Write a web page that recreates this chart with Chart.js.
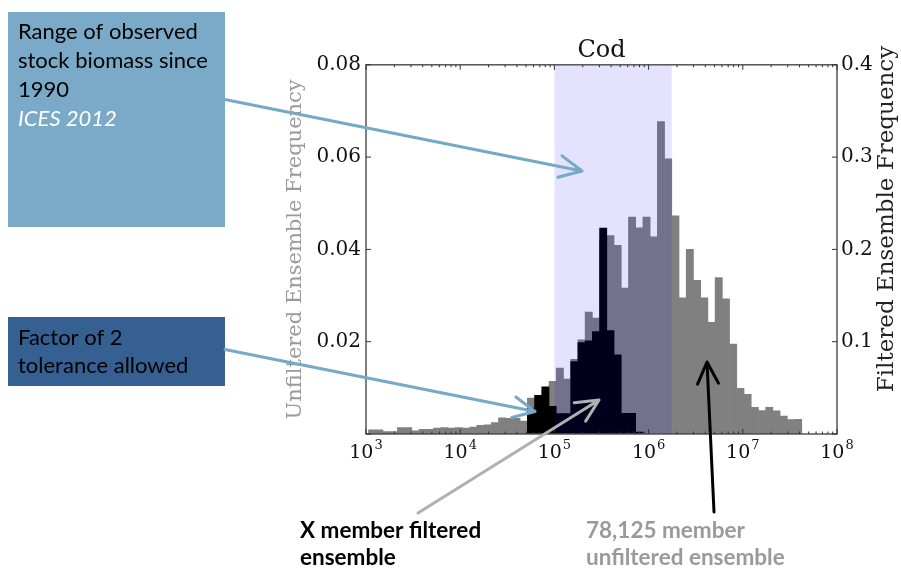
<!DOCTYPE html>
<html>
<head>
<meta charset="utf-8">
<script src="https://cdn.jsdelivr.net/npm/chart.js@4.4.1/dist/chart.umd.min.js"></script>
<style>
  html, body { margin: 0; padding: 0; background: #ffffff; }
  #wrap { position: relative; width: 901px; height: 569px; }
</style>
</head>
<body>
<div id="wrap"><canvas id="cod"></canvas></div>
<script>
// ---- Cod ensemble biomass histograms (60 log-spaced bins, log10 units) ----
const binLog10Min = 3.0265;
const binLog10Max = 7.626;

// Unfiltered ensemble frequency (left axis)
const unfilteredFreq = [
  0.0009, 0.0009, 0.0005, 0.0005, 0.0014, 0.0014, 0.0007, 0.0010, 0.0010, 0.0013,
  0.0014, 0.0013, 0.0014, 0.0013, 0.0015, 0.0019, 0.0020, 0.0025, 0.0035, 0.0034,
  0.0034, 0.0028, 0.0078, 0.0060, 0.0095, 0.0114, 0.0143, 0.0119, 0.0162, 0.0204,
  0.0264, 0.0251, 0.0420, 0.0430, 0.0409, 0.0316, 0.0470, 0.0447, 0.0470, 0.0427,
  0.0677, 0.0596, 0.0473, 0.0295, 0.0400, 0.0333, 0.0295, 0.0242, 0.0339, 0.0293,
  0.0195, 0.0099, 0.0086, 0.0058, 0.0051, 0.0058, 0.0050, 0.0039, 0.0031, 0.0032
];

// Filtered ensemble frequency (right axis)
const filteredFreq = [
  0, 0, 0, 0, 0, 0, 0, 0, 0, 0,
  0, 0, 0, 0, 0, 0, 0, 0, 0, 0,
  0, 0, 0.028, 0.042, 0.051, 0.030, 0.022, 0.022, 0.0785, 0.099,
  0.101, 0.111, 0.223, 0.112, 0.0858, 0.0225, 0.0225, 0.002, 0, 0,
  0, 0, 0, 0, 0, 0, 0, 0, 0, 0,
  0, 0, 0, 0, 0, 0, 0, 0, 0, 0
];

// Observed stock biomass since 1990 (ICES 2012)
const observedRange = [1e5, 1.76e6];

// Axis ticks
const xTickExponents = [3, 4, 5, 6, 7, 8];
const leftTicks = [0, 0.02, 0.04, 0.06, 0.08];
const rightTicks = [0, 0.1, 0.2, 0.3, 0.4];

// Bin centres in log10 space
const binWidth = (binLog10Max - binLog10Min) / unfilteredFreq.length;
const binCentres = unfilteredFreq.map((_, i) => binLog10Min + (i + 0.5) * binWidth);

const SERIF = "'DejaVu Serif', serif";
const SANS = "Lato, 'Open Sans', sans-serif";

function arrow(ctx, x1, y1, x2, y2, color, width, head, angle) {
  ctx.save();
  ctx.strokeStyle = color;
  ctx.lineWidth = width;
  ctx.lineCap = 'round';
  ctx.lineJoin = 'round';
  ctx.beginPath();
  ctx.moveTo(x1, y1);
  ctx.lineTo(x2, y2);
  const a = Math.atan2(y2 - y1, x2 - x1);
  ctx.moveTo(x2 - head * Math.cos(a - angle), y2 - head * Math.sin(a - angle));
  ctx.lineTo(x2, y2);
  ctx.lineTo(x2 - head * Math.cos(a + angle), y2 - head * Math.sin(a + angle));
  ctx.stroke();
  ctx.restore();
}

const decor = {
  id: 'decor',
  afterDatasetsDraw(chart) {
    const {ctx, chartArea: ca, scales} = chart;
    const x = scales.x, y = scales.y, y2 = scales.y2;
    ctx.save();
    // shaded observed range
    const xa = x.getPixelForValue(Math.log10(observedRange[0]));
    const xb = x.getPixelForValue(Math.log10(observedRange[1]));
    ctx.fillStyle = 'rgba(0, 0, 255, 0.11)';
    ctx.fillRect(xa, ca.top, xb - xa, ca.bottom - ca.top);

    // frame
    ctx.strokeStyle = '#555555';
    ctx.lineWidth = 1.5;
    ctx.strokeRect(ca.left, ca.top, ca.right - ca.left, ca.bottom - ca.top);

    // inward ticks
    ctx.lineWidth = 1;
    ctx.strokeStyle = '#333333';
    ctx.beginPath();
    xTickExponents.forEach(e => {
      const px = x.getPixelForValue(e);
      ctx.moveTo(px, ca.bottom); ctx.lineTo(px, ca.bottom - 5);
      ctx.moveTo(px, ca.top); ctx.lineTo(px, ca.top + 5);
      if (e < 8) {
        for (let k = 2; k <= 9; k++) {
          const pm = x.getPixelForValue(e + Math.log10(k));
          ctx.moveTo(pm, ca.bottom); ctx.lineTo(pm, ca.bottom - 2.5);
          ctx.moveTo(pm, ca.top); ctx.lineTo(pm, ca.top + 2.5);
        }
      }
    });
    leftTicks.forEach(v => {
      const py = y.getPixelForValue(v);
      ctx.moveTo(ca.left, py); ctx.lineTo(ca.left + 5, py);
    });
    rightTicks.forEach(v => {
      const py = y2.getPixelForValue(v);
      ctx.moveTo(ca.right, py); ctx.lineTo(ca.right - 5, py);
    });
    ctx.stroke();

    // x tick labels: 10 with a raised exponent
    ctx.fillStyle = '#111111';
    ctx.textBaseline = 'alphabetic';
    ctx.textAlign = 'left';
    xTickExponents.forEach(e => {
      const px = x.getPixelForValue(e);
      ctx.font = '19px ' + SERIF;
      const wBase = ctx.measureText('10').width;
      ctx.font = '13px ' + SERIF;
      const wExp = ctx.measureText(String(e)).width;
      const left = px - (wBase + 1 + wExp) / 2;
      ctx.font = '19px ' + SERIF;
      ctx.fillText('10', left, ca.bottom + 24);
      ctx.font = '13px ' + SERIF;
      ctx.fillText(String(e), left + wBase + 1, ca.bottom + 15);
    });
    ctx.restore();
  },
  afterDraw(chart) {
    const {ctx, chartArea: ca} = chart;
    ctx.save();
    // axis titles
    ctx.textAlign = 'center';
    ctx.textBaseline = 'middle';
    ctx.save();
    ctx.translate(296, (ca.top + ca.bottom) / 2);
    ctx.rotate(-Math.PI / 2);
    ctx.font = '21px ' + SERIF;
    ctx.fillStyle = '#9a9a9a';
    ctx.fillText('Unfiltered Ensemble Frequency', 0, 0);
    ctx.restore();
    ctx.save();
    ctx.translate(887, 219);
    ctx.rotate(-Math.PI / 2);
    ctx.font = '23px ' + SERIF;
    ctx.fillStyle = '#222222';
    ctx.fillText('Filtered Ensemble Frequency', 0, 0);
    ctx.restore();

    // callout boxes
    ctx.fillStyle = '#7baac8';
    ctx.fillRect(8, 12, 217, 215);
    ctx.fillStyle = '#366092';
    ctx.fillRect(8, 317, 217, 69);

    ctx.textAlign = 'left';
    ctx.textBaseline = 'alphabetic';
    ctx.font = '22px ' + SANS;
    ctx.fillStyle = '#000000';
    ctx.fillText('Range of observed', 18, 39);
    ctx.fillText('stock biomass since', 18, 68);
    ctx.fillText('1990', 18, 97);
    ctx.font = 'italic 22px ' + SANS;
    ctx.fillStyle = '#ffffff';
    ctx.fillText('ICES 2012', 18, 126);
    ctx.font = '22px ' + SANS;
    ctx.fillStyle = '#000000';
    ctx.fillText('Factor of 2', 18, 345);
    ctx.fillText('tolerance allowed', 18, 373);

    // arrows
    arrow(ctx, 225, 99.5, 582, 171, '#78a8c8', 3, 25, 0.45);
    arrow(ctx, 225, 349.5, 535, 411.5, '#78a8c8', 3, 24, 0.45);
    arrow(ctx, 418, 513, 599, 400, '#b0b0b0', 3, 25, 0.45);
    arrow(ctx, 714, 512, 707, 362, '#000000', 3, 24, 0.45);

    // bottom labels
    ctx.font = 'bold 22.5px ' + SANS;
    ctx.fillStyle = '#000000';
    ctx.fillText('X member filtered', 300, 538);
    ctx.fillText('ensemble', 300, 565);
    ctx.fillStyle = '#9a9a9a';
    ctx.fillText('78,125 member', 586, 538);
    ctx.fillText('unfiltered ensemble', 586, 565);
    ctx.restore();
  }
};

new Chart(document.getElementById('cod'), {
  type: 'bar',
  data: {
    datasets: [
      {
        label: 'Filtered ensemble',
        data: binCentres.map((c, i) => ({x: c, y: filteredFreq[i]})),
        yAxisID: 'y2',
        backgroundColor: '#000000',
        borderWidth: 0,
        grouped: false,
        barPercentage: 1,
        categoryPercentage: 1,
        order: 0
      },
      {
        label: 'Unfiltered ensemble',
        data: binCentres.map((c, i) => ({x: c, y: unfilteredFreq[i]})),
        yAxisID: 'y',
        backgroundColor: '#808080',
        borderWidth: 0,
        grouped: false,
        barPercentage: 1,
        categoryPercentage: 1,
        order: 1
      }
    ]
  },
  options: {
    responsive: true,
    maintainAspectRatio: false,
    devicePixelRatio: 1,
    animation: false,
    layout: { padding: { left: 280, right: 0, top: 36, bottom: 0 } },
    plugins: {
      legend: { display: false },
      tooltip: { enabled: false },
      title: {
        display: true,
        text: 'Cod',
        fullSize: false,
        color: '#111111',
        font: { family: SERIF, size: 24, weight: 'normal', lineHeight: 1.2 },
        padding: { top: 0, bottom: 0 }
      }
    },
    scales: {
      x: {
        type: 'linear',
        min: 3,
        max: 8,
        offset: false,
        grid: { display: false, drawTicks: false },
        border: { display: false },
        afterBuildTicks: s => { s.ticks = xTickExponents.map(v => ({value: v})); },
        ticks: { display: false },
        afterFit: s => { s.height = 135; }
      },
      y: {
        position: 'left',
        min: 0,
        max: 0.08,
        grid: { display: false, drawTicks: false },
        border: { display: false },
        afterBuildTicks: s => { s.ticks = leftTicks.map(v => ({value: v})); },
        ticks: {
          padding: 5,
          color: '#111111',
          font: { family: SERIF, size: 20 },
          callback: v => v === 0 ? '' : v.toFixed(2)
        },
        afterFit: s => { s.width = 86; }
      },
      y2: {
        position: 'right',
        min: 0,
        max: 0.4,
        grid: { display: false, drawTicks: false },
        border: { display: false },
        afterBuildTicks: s => { s.ticks = rightTicks.map(v => ({value: v})); },
        ticks: {
          padding: 4,
          color: '#111111',
          font: { family: SERIF, size: 20 },
          callback: v => v === 0 ? '' : v.toFixed(1)
        },
        afterFit: s => { s.width = 64; }
      }
    }
  },
  plugins: [decor]
});
</script>
</body>
</html>
